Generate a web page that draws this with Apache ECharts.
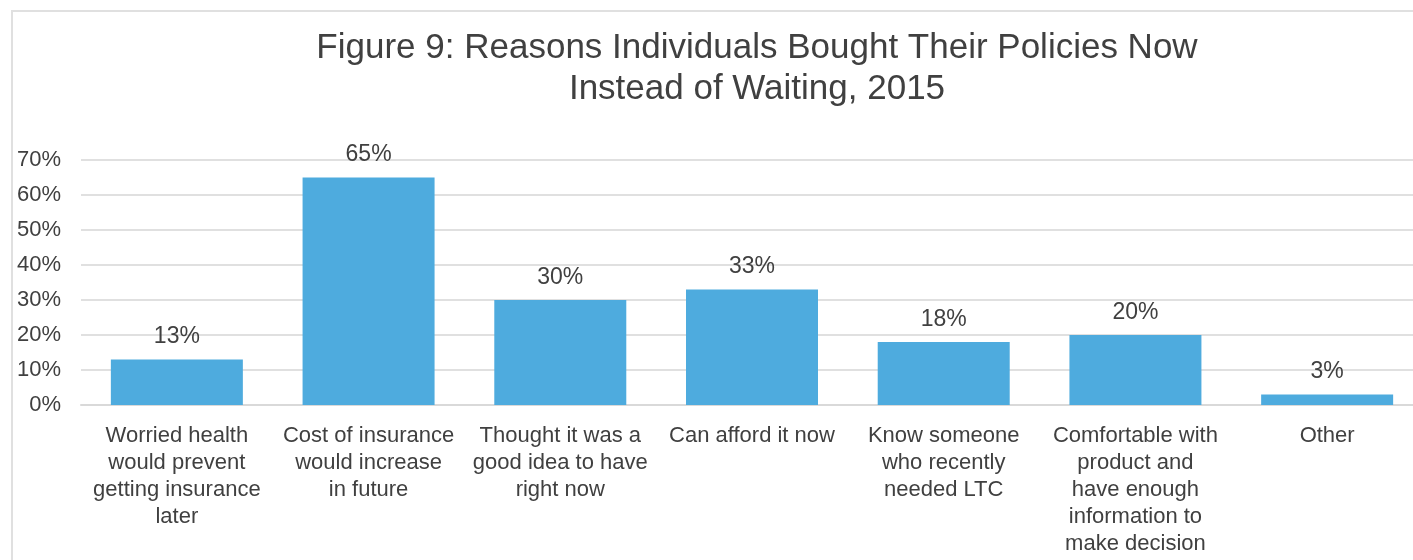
<!DOCTYPE html>
<html>
<head>
<meta charset="utf-8">
<script src="https://cdn.jsdelivr.net/npm/echarts@6/dist/echarts.min.js"></script>
<style>
  html, body { margin: 0; padding: 0; background: #fff; overflow: hidden; }
  #container { width: 1423px; height: 560px; }
</style>
</head>
<body>
<div id="container"></div>
<script>
var categories = [
    'Worried health\nwould prevent\ngetting insurance\nlater',
    'Cost of insurance\nwould increase\nin future',
    'Thought it was a\ngood idea to have\nright now',
    'Can afford it now',
    'Know someone\nwho recently\nneeded LTC',
    'Comfortable with\nproduct and\nhave enough\ninformation to\nmake decision',
    'Other'
];
var percentValues = [13, 65, 30, 33, 18, 20, 3];
var yTicks = [0, 10, 20, 30, 40, 50, 60, 70];

var chartDom = document.getElementById('container');
var myChart = echarts.init(chartDom, null, { renderer: 'canvas' });

var textColor = '#404040';
var fontName = '"Liberation Sans", Arial, sans-serif';

var option = {
    animation: false,
    title: {
        text: 'Figure 9: Reasons Individuals Bought Their Policies Now\nInstead of Waiting, 2015',
        left: 752,
        top: 23,
        textAlign: 'center',
        textStyle: {
            color: textColor,
            fontFamily: fontName,
            fontSize: 35,
            fontWeight: 'normal',
            lineHeight: 41
        }
    },
    graphic: [
        {
            type: 'rect',
            shape: { x: 12, y: 11, width: 1500, height: 600 },
            style: { fill: 'none', stroke: '#e0e0e0', lineWidth: 2 },
            silent: true
        }
    ],
    grid: {
        left: 81,
        right: 0,
        top: 160,
        bottom: 155
    },
    xAxis: {
        type: 'category',
        data: categories,
        axisLine: { show: true, lineStyle: { color: '#d9d9d9', width: 2 } },
        axisTick: { show: false },
        axisLabel: {
            interval: 0,
            color: textColor,
            fontFamily: fontName,
            fontSize: 22,
            lineHeight: 27,
            margin: 17,
            verticalAlign: 'top'
        }
    },
    yAxis: {
        type: 'value',
        min: 0,
        max: yTicks[yTicks.length - 1],
        interval: 10,
        axisLine: { show: false },
        axisTick: { show: false },
        splitLine: { lineStyle: { color: '#e0e0e0', width: 2 } },
        axisLabel: {
            color: textColor,
            fontFamily: fontName,
            fontSize: 22,
            margin: 20,
            formatter: '{value}%'
        }
    },
    series: [
        {
            type: 'bar',
            data: percentValues,
            barWidth: 132,
            itemStyle: { color: '#4eabde' },
            label: {
                show: true,
                position: 'top',
                distance: 11,
                color: textColor,
                fontFamily: fontName,
                fontSize: 23,
                formatter: '{c}%'
            }
        }
    ]
};

myChart.setOption(option);
window.addEventListener('resize', myChart.resize);
</script>
</body>
</html>
